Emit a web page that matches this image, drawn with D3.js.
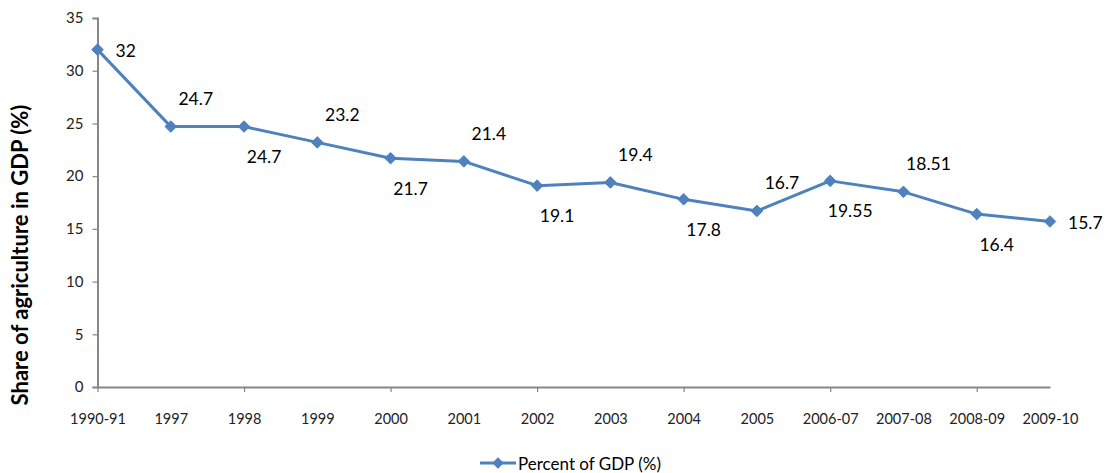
<!DOCTYPE html>
<html><head><meta charset="utf-8">
<script src="https://cdn.jsdelivr.net/npm/d3@7"></script>
<style>body{margin:0;background:#fff}svg{display:block}</style>
</head><body>
<svg id="chart" width="1111" height="473"></svg>
<script>
const categories = ["1990-91","1997","1998","1999","2000","2001","2002","2003","2004","2005","2006-07","2007-08","2008-09","2009-10"];
const values = [32, 24.7, 24.7, 23.2, 21.7, 21.4, 19.1, 19.4, 17.8, 16.7, 19.55, 18.51, 16.4, 15.7];
const valueLabels = ["32","24.7","24.7","23.2","21.7","21.4","19.1","19.4","17.8","16.7","19.55","18.51","16.4","15.7"];
const labelPlacement = ["right","above","below","above","below","above","below","above","below","above","below","above","below","right"];
const yTicks = [0,5,10,15,20,25,30,35];
const seriesName = "Percent of GDP (%)";
const yTitle = "Share of agriculture in GDP (%)";

(function(){
const svg = d3.select("#chart");
const font = "Lato, 'Open Sans', sans-serif";
const color = "#4F81BD";
const axisColor = "#868686";
const mLeft = 97.5, mRight = 1050, mTop = 18, mBottom = 387;

const x = d3.scalePoint().domain(categories).range([mLeft, mRight]).padding(0);
const y = d3.scaleLinear().domain([0, 35]).range([mBottom, mTop]);

// y axis
const yAxis = svg.append("g").attr("transform", `translate(${mLeft},0)`)
  .call(d3.axisLeft(y).tickValues(yTicks).tickSize(5).tickPadding(9));
yAxis.select(".domain").attr("stroke", axisColor).attr("stroke-width", 2);
yAxis.selectAll(".tick line").attr("stroke", axisColor).attr("stroke-width", 1.2);
yAxis.selectAll(".tick text").attr("font-family", font).attr("font-size", 15).attr("fill", "#222");

// x axis
const xAxis = svg.append("g").attr("transform", `translate(0,${mBottom})`)
  .call(d3.axisBottom(x).tickSize(0).tickPadding(27).tickSizeOuter(0));
xAxis.select(".domain").attr("stroke", axisColor).attr("stroke-width", 2);
xAxis.selectAll(".tick text").attr("font-family", font).attr("font-size", 14.5).attr("fill", "#222");
xAxis.selectAll(".tick").filter((d,i) => i % 2 === 0 && i < categories.length - 1)
  .append("line").attr("y1", 0).attr("y2", 5).attr("stroke", axisColor).attr("stroke-width", 1.2);

// y title
svg.append("text")
  .attr("transform", `translate(28,255) rotate(-90)`)
  .attr("text-anchor", "middle")
  .attr("font-family", font).attr("font-weight", "bold").attr("font-size", 22)
  .attr("fill", "#000").text(yTitle);

// line
const line = d3.line().x((d,i) => x(categories[i])).y(d => y(d));
svg.append("path").datum(values).attr("d", line)
  .attr("fill", "none").attr("stroke", color).attr("stroke-width", 3).attr("stroke-linejoin", "round");

const diamond = d3.symbol().type(d3.symbolDiamond2).size(85);
svg.selectAll(".marker").data(values).join("path")
  .attr("class", "marker")
  .attr("d", diamond)
  .attr("transform", (d,i) => `translate(${x(categories[i])},${y(d)})`)
  .attr("fill", color).attr("stroke", color).attr("stroke-width", 1);

// data labels
svg.selectAll(".dlabel").data(values).join("text")
  .attr("class", "dlabel")
  .attr("font-family", font).attr("font-size", 17.5).attr("fill", "#000")
  .attr("dominant-baseline", "central")
  .attr("text-anchor", (d,i) => labelPlacement[i] === "right" ? "start" : "middle")
  .attr("x", (d,i) => {
    const px = x(categories[i]);
    if (labelPlacement[i] === "right") return px + 18;
    return px + (labelPlacement[i] === "above" ? 25 : 20);
  })
  .attr("y", (d,i) => {
    const py = y(d);
    if (labelPlacement[i] === "right") return py + 1;
    return py + (labelPlacement[i] === "above" ? -28 : 30);
  })
  .text((d,i) => valueLabels[i]);

// legend
const lg = svg.append("g").attr("transform", "translate(480,463)");
lg.append("line").attr("x1", 0).attr("x2", 36).attr("stroke", color).attr("stroke-width", 3);
lg.append("path").attr("d", diamond).attr("transform", "translate(18,0)").attr("fill", color);
lg.append("text").attr("x", 38).attr("y", 0).attr("dominant-baseline", "central")
  .attr("font-family", font).attr("font-size", 17).attr("fill", "#000").text(seriesName);
})();
</script>
</body></html>
